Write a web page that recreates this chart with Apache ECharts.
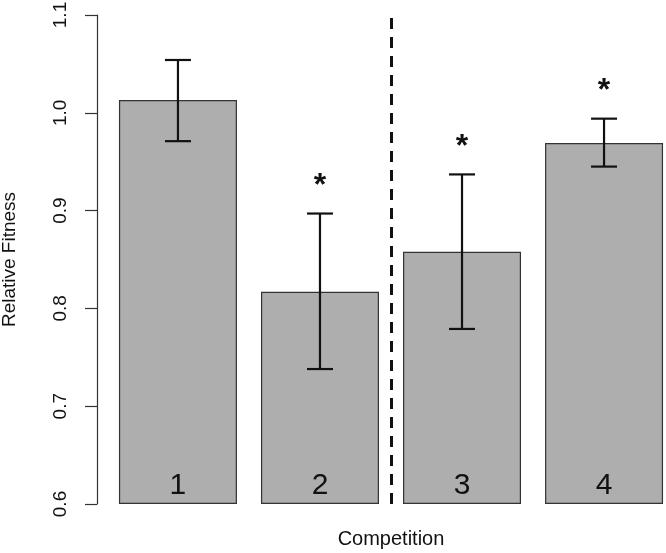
<!DOCTYPE html>
<html>
<head>
<meta charset="utf-8">
<script src="https://cdn.jsdelivr.net/npm/echarts@6/dist/echarts.min.js"></script>
<style>
  html, body { margin: 0; padding: 0; background: #fff; }
  #chart { width: 666px; height: 553px; }
</style>
</head>
<body>
<div id="chart"></div>
<script>
// data
const categories = ['1', '2', '3', '4']
const fitness = [1.013, 0.817, 0.858, 0.969]
const errLow = [0.971, 0.738, 0.779, 0.945]
const errHigh = [1.054, 0.897, 0.937, 0.994]
const significant = [false, true, true, true]
const yMin = 0.6
const yMax = 1.1
const yStep = 0.1

// R barplot style layout: width 1, space 0.2, 4% padding on x
const BAR_W = 1
const SPACE = 0.2
const center = (i) => SPACE + BAR_W / 2 + i * (BAR_W + SPACE)
const xLeft = SPACE
const xRight = categories.length * (BAR_W + SPACE)
const pad = (xRight - xLeft) * 0.04
const divider = (center(1) + center(2)) / 2
const STAR_GAP = 0.028

const FONT = "'Liberation Sans', Arial, sans-serif"
const INK = '#111'

const chart = echarts.init(document.getElementById('chart'))

const barData = fitness.map((v, i) => [center(i), v])
const errData = fitness.map((v, i) => [center(i), errLow[i], errHigh[i]])
const starData = []
significant.forEach((s, i) => { if (s) starData.push([center(i), errHigh[i] + STAR_GAP]) })

chart.setOption({
  animation: false,
  backgroundColor: '#fff',
  // plot region runs past the right edge, like the cropped original
  grid: { left: 97, right: -19, top: 15, bottom: 49, outerBoundsMode: 'none', containLabel: false },
  xAxis: {
    type: 'value',
    min: xLeft - pad,
    max: xRight + pad,
    axisLine: { show: false },
    axisTick: { show: false },
    axisLabel: { show: false },
    splitLine: { show: false },
    name: 'Competition',
    nameLocation: 'middle',
    nameGap: 25,
    nameTextStyle: { fontFamily: FONT, fontSize: 20, color: INK },
  },
  yAxis: {
    type: 'value',
    min: yMin,
    max: yMax,
    interval: yStep,
    startValue: yMin,
    axisLine: { show: true, lineStyle: { color: '#333', width: 1.2 } },
    axisTick: { show: true, length: 12, lineStyle: { color: '#333', width: 1.2 } },
    splitLine: { show: false },
    axisLabel: {
      rotate: 90,
      margin: 27,
      fontFamily: FONT,
      fontSize: 19,
      color: INK,
      formatter: (v) => v.toFixed(1),
    },
    name: 'Relative Fitness',
    nameLocation: 'middle',
    nameRotate: 90,
    nameGap: 78,
    nameTextStyle: { fontFamily: FONT, fontSize: 19, color: INK },
  },
  series: [
    {
      type: 'bar',
      data: barData,
      barWidth: 118,
      itemStyle: { color: '#aeaeae', borderColor: '#333', borderWidth: 1.2 },
      label: {
        show: true,
        position: 'insideBottom',
        distance: 3,
        fontFamily: FONT,
        fontSize: 30,
        color: INK,
        formatter: (p) => categories[p.dataIndex],
      },
      markLine: {
        silent: true,
        symbol: 'none',
        label: { show: false },
        lineStyle: { color: INK, width: 3, type: [11, 8] },
        data: [{ xAxis: divider }],
      },
    },
    {
      type: 'custom',
      data: errData,
      encode: { x: 0, y: [1, 2] },
      z: 3,
      renderItem: (params, api) => {
        const x = api.value(0)
        const lo = api.coord([x, api.value(1)])
        const hi = api.coord([x, api.value(2)])
        const cap = 13
        const style = { stroke: INK, lineWidth: 2.2 }
        return {
          type: 'group',
          children: [
            { type: 'line', shape: { x1: hi[0], y1: hi[1], x2: lo[0], y2: lo[1] }, style },
            { type: 'line', shape: { x1: hi[0] - cap, y1: hi[1], x2: hi[0] + cap, y2: hi[1] }, style },
            { type: 'line', shape: { x1: lo[0] - cap, y1: lo[1], x2: lo[0] + cap, y2: lo[1] }, style },
          ],
        }
      },
    },
    {
      type: 'custom',
      data: starData,
      encode: { x: 0, y: 1 },
      z: 3,
      renderItem: (params, api) => {
        const p = api.coord([api.value(0), api.value(1)])
        return {
          type: 'text',
          x: p[0],
          y: p[1],
          style: {
            text: '*',
            fill: INK,
            fontFamily: FONT,
            fontSize: 32,
            fontWeight: 'bold',
            align: 'center',
            verticalAlign: 'middle',
          },
        }
      },
    },
  ],
})
</script>
</body>
</html>
